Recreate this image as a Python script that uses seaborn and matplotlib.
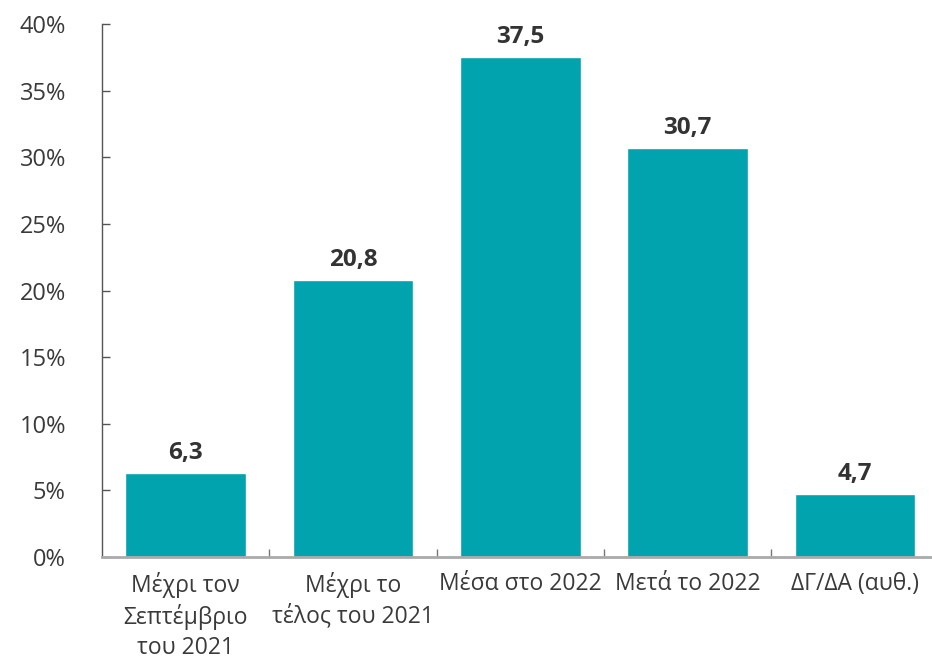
import pandas as pd
import matplotlib.pyplot as plt
import seaborn as sns
from matplotlib.ticker import FixedLocator

# data
categories = ['Μέχρι τον\nΣεπτέμβριο\nτου 2021', 'Μέχρι το\nτέλος του 2021',
              'Μέσα στο 2022', 'Μετά το 2022', 'ΔΓ/ΔΑ (αυθ.)']
values = [6.3, 20.8, 37.5, 30.7, 4.7]
y_ticks = [0, 5, 10, 15, 20, 25, 30, 35, 40]

df = pd.DataFrame({'cat': categories, 'val': values})

sns.set_theme(style='white')
plt.rcParams['font.family'] = ['Open Sans', 'DejaVu Sans']

fig = plt.figure(figsize=(9.32, 6.62), dpi=100)
ax = fig.add_axes([0.1094, 0.1586, 0.8906, 0.8051])

sns.barplot(data=df, x='cat', y='val', color='#00A3AE', saturation=1,
            width=0.72, ax=ax)

# value labels with greek decimal comma
labels = [f'{v:.1f}'.replace('.', ',') for v in values]
ax.bar_label(ax.containers[0], labels=labels, padding=6,
             fontsize=17.5, fontweight='bold', color='#333333')

ax.set_xlim(-0.5, 4.46)
ax.set_ylim(0, 40)
ax.set_yticks(y_ticks)
ax.set_yticklabels([f'{t}%' for t in y_ticks])
ax.set_xlabel('')
ax.set_ylabel('')

# separators between categories on the x axis
ax.xaxis.set_minor_locator(FixedLocator([0.5, 1.5, 2.5, 3.5]))
ax.tick_params(axis='x', which='major', length=0, pad=11, labelsize=16.5,
               labelcolor='#3a3a3a')
ax.tick_params(axis='x', which='minor', direction='in', length=6,
               width=1, color='#777777', bottom=True)
ax.tick_params(axis='y', direction='in', length=6, width=1, color='#555555',
               left=True, pad=26, labelsize=17, labelcolor='#3a3a3a')

for lbl in ax.get_xticklabels():
    lbl.set_linespacing(1.3)
for lbl in ax.get_yticklabels():
    lbl.set_horizontalalignment('right')

sns.despine(ax=ax, top=True, right=True)
ax.spines['left'].set_color('#555555')
ax.spines['left'].set_linewidth(1)
ax.spines['bottom'].set_color('#aaaaaa')
ax.spines['bottom'].set_linewidth(2)

plt.savefig('out.png', dpi=100)
